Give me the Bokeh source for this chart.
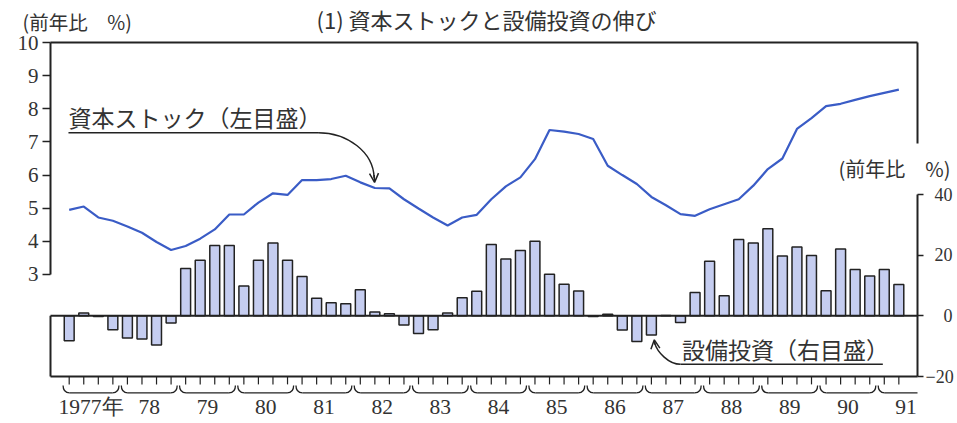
from bokeh.plotting import figure
from bokeh.models import (Range1d, LinearAxis, FixedTicker, Label, Arrow, OpenHead,
                          ColumnDataSource)
from bokeh.embed import file_html
from bokeh.resources import INLINE
from bokeh.core.properties import value

# ---------------- data (quarterly, 1977Q1 - 1991Q2) ----------------
years = list(range(1977, 1992))
year_labels = ["1977年", "78", "79", "80", "81", "82", "83", "84",
               "85", "86", "87", "88", "89", "90", "91"]

# 資本ストック（左目盛, 前年比 %）
capital_stock = [4.95, 5.05, 4.72, 4.62,
                 4.45, 4.26, 3.98, 3.74,
                 3.86, 4.08, 4.36, 4.81,
                 4.81, 5.17, 5.45, 5.40,
                 5.85, 5.85, 5.88, 5.98,
                 5.78, 5.61, 5.60, 5.27,
                 4.99, 4.72, 4.48, 4.72,
                 4.80, 5.27, 5.66, 5.93,
                 6.48, 7.36, 7.31, 7.24,
                 7.09, 6.28, 6.00, 5.73,
                 5.34, 5.09, 4.82, 4.77,
                 4.97, 5.12, 5.27, 5.68,
                 6.18, 6.50, 7.39, 7.72,
                 8.08, 8.15, 8.27, 8.38,
                 8.48, 8.58]

# 設備投資（右目盛, 前年比 %）
investment = [-8.2, 0.9, -0.2, -4.6,
              -7.3, -7.6, -9.6, -2.4,
              15.6, 18.3, 23.2, 23.2,
              9.8, 18.3, 24.0, 18.3,
              13.0, 5.8, 4.3, 4.0,
              8.6, 1.3, 0.7, -3.0,
              -5.8, -4.6, 0.9, 6.0,
              8.1, 23.5, 18.7, 21.5,
              24.6, 13.7, 10.4, 8.2,
              -0.2, 0.5, -4.7, -8.5,
              -6.3, 0.1, -2.2, 7.7,
              18.0, 6.6, 25.2, 24.0,
              28.7, 19.7, 22.7, 19.9,
              8.3, 22.0, 15.3, 13.1,
              15.3, 10.3]

left_ticks = [3, 4, 5, 6, 7, 8, 9, 10]
right_ticks = [-20, 0, 20, 40]

# ---------------- derived ----------------
n = len(capital_stock)
idx = list(range(n))
quarters = [f"{y}Q{q}" for y in years for q in range(1, 5)][:n]
src = ColumnDataSource(dict(idx=idx, q=quarters, stock=capital_stock, inv=investment))

W, H = 955, 421
# canvas is entirely the plot frame; axes are pinned inside it
X0, X1 = -4.720, (W - 68.7) / 14.555
XL, XR = -1.285, 58.283              # edges of the chart box
YL0, YL1 = 10 - (H - 42) / 33.14, 10 + 42 / 33.14
YR0, YR1 = -20 - (H - 376) / 3.0333, -20 + 376 / 3.0333

DARK = "#222222"
TXT = "#333333"
JP = "Noto Sans CJK JP"
SERIF = "Liberation Serif"
FS = "\u2007"  # figure space (digit width) for right-aligned right-axis labels

p = figure(width=W, height=H, output_backend="svg", toolbar_location=None,
           x_range=Range1d(X0, X1), y_range=Range1d(YL0, YL1),
           x_axis_location=None, y_axis_location=None, title_location=None,
           min_border=0)
p.extra_y_ranges = {"right": Range1d(YR0, YR1)}
p.outline_line_color = None
p.xgrid.visible = False
p.ygrid.visible = False
p.background_fill_color = "white"
p.border_fill_color = "white"

# axes
lax = LinearAxis(ticker=FixedTicker(ticks=left_ticks), bounds=(3, 10), fixed_location=XL,
                 axis_line_color=DARK, axis_line_width=2,
                 major_tick_line_color=DARK, major_tick_line_width=1.5,
                 major_tick_out=8, major_tick_in=0, minor_tick_line_color=None,
                 major_label_text_font=SERIF, major_label_text_font_size="21px",
                 major_label_text_color=TXT, major_label_standoff=4)
p.add_layout(lax, "left")

width_r = max(len(str(t)) for t in right_ticks)
rax = LinearAxis(y_range_name="right", ticker=FixedTicker(ticks=right_ticks), bounds=(-20, 40),
                 fixed_location=XR,
                 axis_line_color=DARK, axis_line_width=2,
                 major_tick_line_color=DARK, major_tick_line_width=1.5,
                 major_tick_out=6, major_tick_in=0, minor_tick_line_color=None,
                 major_label_text_font=SERIF, major_label_text_font_size="18px",
                 major_label_text_color=TXT, major_label_standoff=2,
                 major_label_overrides={t: FS * (width_r - len(str(t))) + str(t)
                                        for t in right_ticks if t >= 0})
p.add_layout(rax, "right")

# bars and line
p.vbar(x="idx", top="inv", bottom=0, width=0.68, source=src, y_range_name="right",
       fill_color="#c5cdf0", line_color=DARK, line_width=1.5)
p.line(x="idx", y="stock", source=src, line_color="#3a5cc6", line_width=2.2)

# frame pieces of the chart box
p.segment(x0=[XL, XR], y0=[10, 10], x1=[XR, XR], y1=[10, 6.95],
          line_color=DARK, line_width=2)
p.segment(x0=[XL, XL, XL], y0=[0, -20, 0], x1=[XR, XR, XL], y1=[0, -20, -20],
          y_range_name="right", line_color=DARK, line_width=2)

# quarter ticks below the axis
p.segment(x0=idx, y0=[-20] * n, x1=idx, y1=[-22.6] * n, y_range_name="right",
          line_color=DARK, line_width=1.2)

# year braces
ys = [4 * k for k in range(len(years))]
a = [s - 0.42 for s in ys]
b = [min(s + 3.42, XR) for s in ys]
yt, yb = -23.0, -25.4
m = len(ys)
p.quadratic(x0=a, y0=[yt] * m, x1=[v + 0.45 for v in a], y1=[yb] * m,
            cx=a, cy=[yb] * m, y_range_name="right", line_color=DARK, line_width=1.3)
p.quadratic(x0=[v - 0.45 for v in b[:-1]], y0=[yb] * (m - 1), x1=b[:-1], y1=[yt] * (m - 1),
            cx=b[:-1], cy=[yb] * (m - 1), y_range_name="right", line_color=DARK, line_width=1.3)
p.segment(x0=[v + 0.45 for v in a], y0=[yb] * m,
          x1=[v - 0.45 for v in b[:-1]] + [b[-1]], y1=[yb] * m,
          y_range_name="right", line_color=DARK, line_width=1.3)

ysrc = ColumnDataSource(dict(x=[s + 1.5 for s in ys], y=[-30.2] * m, t=year_labels))
p.text(x="x", y="y", text="t", source=ysrc, y_range_name="right",
       text_font=value(SERIF), text_font_size=value("21.5px"), text_color=TXT,
       text_align="center", text_baseline="middle")

# titles / unit labels
p.add_layout(Label(x=28.67, y=10.724, text="(1) 資本ストックと設備投資の伸び",
                   text_font=JP, text_font_size="22px", text_color=TXT,
                   text_align="center", text_baseline="middle"))
p.add_layout(Label(x=-3.2, y=10.634, text="(前年比　%)",
                   text_font=JP, text_font_size="19.5px", text_color=TXT,
                   text_align="left", text_baseline="middle"))
p.add_layout(Label(x=60.55, y=48.57, y_range_name="right", text="(前年比　%)",
                   text_font=JP, text_font_size="20px", text_color=TXT,
                   text_align="right", text_baseline="middle"))

# 資本ストック annotation
p.add_layout(Label(x=-0.05, y=7.75, text="資本ストック（左目盛）",
                   text_font=JP, text_font_size="23px", text_color=TXT,
                   text_align="left", text_baseline="middle"))
p.segment(x0=[-0.05], y0=[7.28], x1=[17.1], y1=[7.28], line_color=DARK, line_width=1.5)
p.bezier(x0=[17.1], y0=[7.28], x1=[20.95], y1=[5.92], cx0=[19.1], cy0=[7.28],
         cx1=[20.9], cy1=[6.7], line_color=DARK, line_width=1.5)
p.add_layout(Arrow(x_start=20.95, y_start=6.0, x_end=20.98, y_end=5.78,
                   line_color=DARK, line_width=1.5,
                   end=OpenHead(size=9, line_color=DARK, line_width=1.5)))

# 設備投資 annotation
p.add_layout(Label(x=42.1, y=-10.8, y_range_name="right", text="設備投資（右目盛）",
                   text_font=JP, text_font_size="23px", text_color=TXT,
                   text_align="left", text_baseline="middle"))
p.segment(x0=[42.0], y0=[-16.0], x1=[55.9], y1=[-16.0], y_range_name="right",
          line_color=DARK, line_width=1.5)
p.bezier(x0=[42.0], y0=[-16.0], x1=[40.22], y1=[-8.9], cx0=[41.2], cy0=[-16.0],
         cx1=[40.4], cy1=[-12.0], y_range_name="right", line_color=DARK, line_width=1.5)
p.add_layout(Arrow(x_start=40.24, y_start=-9.5, x_end=40.2, y_end=-7.9, y_range_name="right",
                   line_color=DARK, line_width=1.5,
                   end=OpenHead(size=9, line_color=DARK, line_width=1.5)))

open("out.html", "w").write(file_html(p, INLINE))
